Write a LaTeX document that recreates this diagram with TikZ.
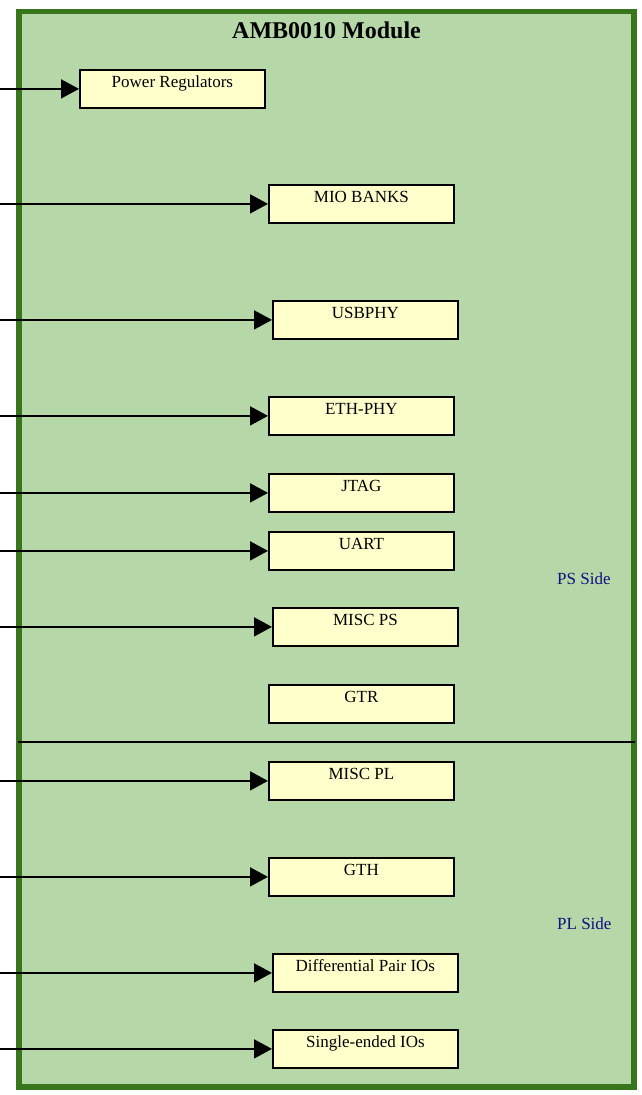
\documentclass[tikz,border=0pt]{standalone}
\usepackage{fontspec}
\setmainfont{Liberation Serif}
\usetikzlibrary{arrows.meta}
\definecolor{modfill}{HTML}{B6D7A8}
\definecolor{modborder}{HTML}{38761D}
\definecolor{boxfill}{HTML}{FFFFCC}
\definecolor{sidetext}{HTML}{101080}
\tikzset{
  blk/.style={draw=black, fill=boxfill, line width=1.8pt, anchor=north west,
    minimum width=185pt, inner xsep=0pt, inner ysep=3pt,
    text height=15pt, text depth=17pt,
    font=\fontsize{17}{20}\selectfont},
  arr/.style={draw=black, line width=1.8pt, -{Triangle[length=18pt,width=19pt]}},
  sidelbl/.style={anchor=base west, inner sep=0pt, text=sidetext,
    font=\fontsize{17}{20}\selectfont},
}
\begin{document}
\begin{tikzpicture}[x=1pt,y=-1pt]
\useasboundingbox (0,0) rectangle (641,1095);
% module container
\draw[line width=5.5pt, draw=modborder, fill=modfill] (19,11.5) rectangle (634,1087);
\node[anchor=base, inner sep=0pt, font=\fontsize{24}{28}\selectfont\bfseries] (title) at (326.5,38) {AMB0010 Module};
% divider
\draw[line width=1.6pt] (18,742) -- (635,742);
\node[sidelbl] (ps) at (557,584) {PS Side};
\node[sidelbl] (pl) at (557,929) {PL Side};
% blocks
\node[blk] (pwr)  at (79,69)   {Power Regulators};
\node[blk] (mio)  at (268,184) {MIO BANKS};
\node[blk] (usb)  at (272,300) {USBPHY};
\node[blk] (eth)  at (268,396) {ETH-PHY};
\node[blk] (jtag) at (268,473) {JTAG};
\node[blk] (uart) at (268,531) {UART};
\node[blk] (mps)  at (272,607) {MISC PS};
\node[blk] (gtr)  at (268,684) {GTR};
\node[blk] (mpl)  at (268,761) {MISC PL};
\node[blk] (gth)  at (268,857) {GTH};
\node[blk] (diff) at (272,953) {Differential Pair IOs};
\node[blk] (se)   at (272,1029) {Single-ended IOs};
% free ends of connectors and connectors
\coordinate (edge) at (0,0);
\foreach \n in {pwr,mio,usb,eth,jtag,uart,mps,mpl,gth,diff,se}{
  \coordinate (s-\n) at (\n.west -| edge);
  \draw[arr] (s-\n) -- (\n.west);
}
\end{tikzpicture}
\end{document}
